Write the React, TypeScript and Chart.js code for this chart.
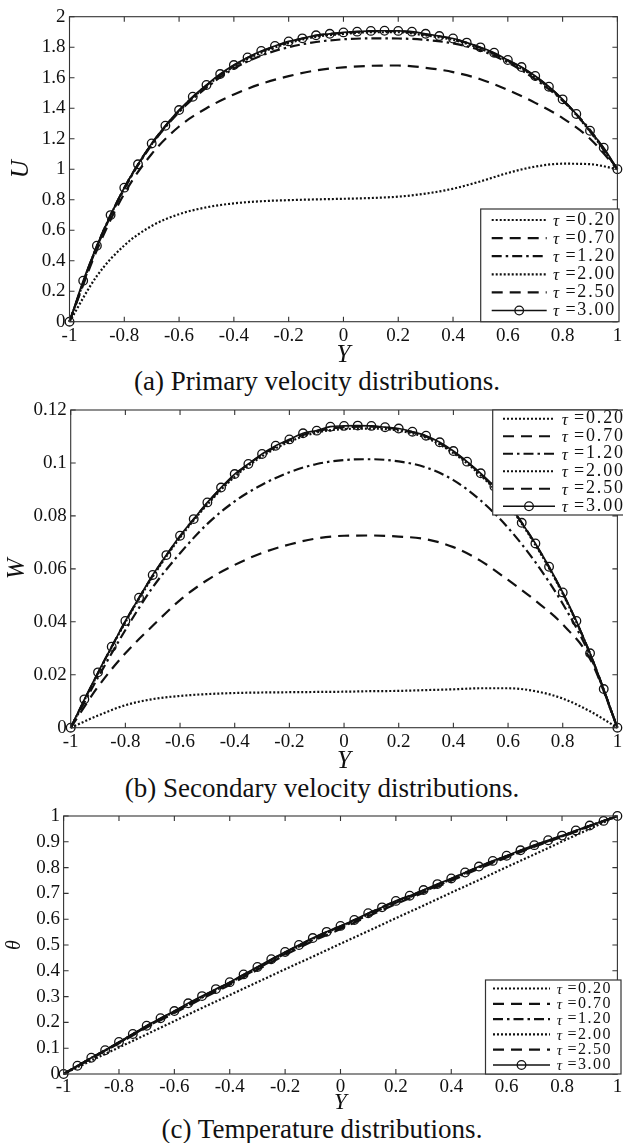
import React, { useEffect, useRef } from 'react';
import { Chart, registerables } from 'chart.js';

Chart.register(...registerables);

// ---------- data ----------
const Y_COARSE = [-1, -0.9, -0.8, -0.7, -0.6, -0.5, -0.4, -0.3, -0.2, -0.1, 0, 0.1, 0.2, 0.3, 0.4, 0.5, 0.6, 0.7, 0.8, 0.9, 1];
const Y_FINE = [-1, -0.95, -0.9, -0.85, -0.8, -0.75, -0.7, -0.65, -0.6, -0.55, -0.5, -0.45, -0.4, -0.35, -0.3, -0.25, -0.2, -0.15, -0.1, -0.05, 0, 0.05, 0.1, 0.15, 0.2, 0.25, 0.3, 0.35, 0.4, 0.45, 0.5, 0.55, 0.6, 0.65, 0.7, 0.75, 0.8, 0.85, 0.9, 0.95, 1];

const TAU_LABELS = ['τ =0.20', 'τ =0.70', 'τ =1.20', 'τ =2.00', 'τ =2.50', 'τ =3.00'];

const X_TICKS = [-1, -0.8, -0.6, -0.4, -0.2, 0, 0.2, 0.4, 0.6, 0.8, 1];
const X_TICK_LABELS = ['-1', '-0.8', '-0.6', '-0.4', '-0.2', '0', '0.2', '0.4', '0.6', '0.8', '1'];

const U_TICKS = [0, 0.2, 0.4, 0.6, 0.8, 1, 1.2, 1.4, 1.6, 1.8, 2];
const U_TICK_LABELS = ['0', '0.2', '0.4', '0.6', '0.8', '1', '1.2', '1.4', '1.6', '1.8', '2'];
const W_TICKS = [0, 0.02, 0.04, 0.06, 0.08, 0.1, 0.12];
const W_TICK_LABELS = ['0', '0.02', '0.04', '0.06', '0.08', '0.1', '0.12'];
const T_TICKS = [0, 0.1, 0.2, 0.3, 0.4, 0.5, 0.6, 0.7, 0.8, 0.9, 1];
const T_TICK_LABELS = ['0', '0.1', '0.2', '0.3', '0.4', '0.5', '0.6', '0.7', '0.8', '0.9', '1'];

// (a) primary velocity U
const U_020 = [0, 0.3, 0.5, 0.628, 0.705, 0.75, 0.776, 0.79, 0.797, 0.802, 0.806, 0.811, 0.82, 0.84, 0.872, 0.92, 0.975, 1.017, 1.036, 1.033, 1.0];
const U_070 = [0, 0.47, 0.84, 1.1, 1.28, 1.4, 1.49, 1.56, 1.61, 1.648, 1.668, 1.678, 1.68, 1.665, 1.637, 1.59, 1.52, 1.435, 1.335, 1.2, 1.0];
const U_120 = [0, 0.49, 0.87, 1.16, 1.375, 1.535, 1.66, 1.745, 1.8, 1.834, 1.852, 1.858, 1.857, 1.848, 1.825, 1.78, 1.7, 1.59, 1.45, 1.258, 1.0];
const U_200 = [0, 0.495, 0.875, 1.163, 1.38, 1.545, 1.672, 1.764, 1.827, 1.868, 1.887, 1.898, 1.898, 1.877, 1.848, 1.79, 1.708, 1.603, 1.452, 1.248, 1.0];
const U_250 = [0, 0.497, 0.877, 1.166, 1.385, 1.549, 1.68, 1.771, 1.834, 1.876, 1.894, 1.905, 1.905, 1.883, 1.855, 1.796, 1.713, 1.608, 1.456, 1.25, 1.0];
const U_300 = [0, 0.269, 0.498, 0.699, 0.879, 1.032, 1.169, 1.285, 1.388, 1.475, 1.552, 1.624, 1.683, 1.733, 1.775, 1.808, 1.838, 1.858, 1.878, 1.888, 1.897, 1.902, 1.907, 1.908, 1.907, 1.902, 1.888, 1.873, 1.857, 1.83, 1.799, 1.764, 1.716, 1.67, 1.611, 1.541, 1.458, 1.362, 1.252, 1.141, 1.0];

// (b) secondary velocity W
const W_020 = [0, 0.0046, 0.0085, 0.0108, 0.012, 0.0127, 0.0131, 0.0133, 0.0134, 0.0135, 0.0136, 0.0138, 0.0139, 0.0142, 0.0145, 0.0149, 0.0149, 0.0138, 0.011, 0.0062, 0];
const W_070 = [0, 0.0155, 0.0281, 0.0385, 0.0482, 0.0558, 0.0615, 0.066, 0.0692, 0.0715, 0.0725, 0.0726, 0.0722, 0.0712, 0.0682, 0.063, 0.0558, 0.048, 0.039, 0.026, 0];
const W_120 = [0, 0.019, 0.0369, 0.053, 0.0659, 0.077, 0.0855, 0.0918, 0.0965, 0.0996, 0.1011, 0.1014, 0.1006, 0.0983, 0.0935, 0.0858, 0.0755, 0.0625, 0.0468, 0.0272, 0];
const W_200 = [0, 0.0205, 0.0398, 0.057, 0.0718, 0.0843, 0.0948, 0.1025, 0.108, 0.1115, 0.1128, 0.113, 0.1122, 0.1095, 0.1037, 0.0953, 0.0842, 0.069, 0.0506, 0.0279, 0];
const W_250 = [0, 0.0207, 0.0401, 0.0574, 0.0722, 0.0848, 0.0954, 0.1031, 0.1086, 0.112, 0.1135, 0.1137, 0.1127, 0.11, 0.1042, 0.0958, 0.0846, 0.0694, 0.0509, 0.028, 0];
const W_300 = [0, 0.0107, 0.0209, 0.0306, 0.0403, 0.0491, 0.0577, 0.0652, 0.0725, 0.0788, 0.0851, 0.0907, 0.0958, 0.0996, 0.1034, 0.1065, 0.1089, 0.1112, 0.1122, 0.1137, 0.114, 0.1141, 0.114, 0.1135, 0.113, 0.1118, 0.1103, 0.1078, 0.1045, 0.1005, 0.0961, 0.0911, 0.0849, 0.0774, 0.0696, 0.0608, 0.0511, 0.0403, 0.0281, 0.0146, 0];

// (c) temperature theta
const T_020 = [0, 0.052, 0.103, 0.154, 0.205, 0.256, 0.306, 0.356, 0.406, 0.455, 0.505, 0.554, 0.604, 0.653, 0.703, 0.752, 0.802, 0.851, 0.901, 0.95, 1];
const T_070 = [0, 0.06, 0.119, 0.18, 0.236, 0.292, 0.346, 0.404, 0.461, 0.515, 0.562, 0.611, 0.659, 0.703, 0.749, 0.796, 0.839, 0.881, 0.919, 0.96, 1];
const T_120 = [0, 0.061, 0.121, 0.183, 0.239, 0.296, 0.35, 0.409, 0.466, 0.52, 0.567, 0.616, 0.664, 0.707, 0.753, 0.8, 0.842, 0.884, 0.921, 0.961, 1];
const T_200 = [0, 0.062, 0.122, 0.185, 0.241, 0.299, 0.353, 0.412, 0.47, 0.524, 0.571, 0.62, 0.668, 0.71, 0.755, 0.802, 0.844, 0.885, 0.922, 0.962, 1];
const T_250 = [0, 0.062, 0.123, 0.186, 0.243, 0.3, 0.355, 0.414, 0.471, 0.526, 0.573, 0.622, 0.67, 0.712, 0.757, 0.803, 0.845, 0.886, 0.923, 0.962, 1];
const T_300 = [0, 0.032, 0.063, 0.092, 0.124, 0.155, 0.187, 0.216, 0.244, 0.274, 0.302, 0.329, 0.356, 0.386, 0.415, 0.445, 0.473, 0.5, 0.527, 0.551, 0.574, 0.597, 0.623, 0.646, 0.671, 0.691, 0.713, 0.736, 0.758, 0.781, 0.804, 0.826, 0.846, 0.867, 0.887, 0.906, 0.924, 0.944, 0.963, 0.981, 1];

// ---------- styling ----------
const SERIF = '"Liberation Serif", "Times New Roman", serif';
const INK = '#111';

const LINE_STYLES = [
  { dash: [2, 2], width: 2.2, marker: false },
  { dash: [11, 7], width: 2.2, marker: false },
  { dash: [10, 4, 2.5, 4], width: 2.2, marker: false },
  { dash: [2, 2], width: 2.2, marker: false },
  { dash: [11, 7], width: 2.2, marker: false },
  { dash: [], width: 1.7, marker: true },
];

const pts = (xs: number[], ys: number[]) => xs.map((x, i) => ({ x, y: ys[i] }));

function makeDatasets(series: number[][]) {
  return series.map((ys, i) => {
    const st = LINE_STYLES[i];
    const xs = ys.length === Y_FINE.length ? Y_FINE : Y_COARSE;
    return {
      label: TAU_LABELS[i],
      data: pts(xs, ys),
      borderColor: INK,
      borderWidth: st.width,
      borderDash: st.dash,
      pointRadius: st.marker ? 4.3 : 0,
      pointHoverRadius: st.marker ? 4.3 : 0,
      pointBorderWidth: 1.3,
      pointBorderColor: INK,
      pointBackgroundColor: 'rgba(0,0,0,0)',
      cubicInterpolationMode: 'monotone',
      fill: false,
      clip: false,
    };
  });
}

const framePlugin = {
  id: 'frameAndLegend',
  afterDatasetsDraw(chart: any, _args: any, opts: any) {
    const { ctx, chartArea: a, scales } = chart;
    ctx.save();
    // frame + inward ticks on all four sides
    ctx.setLineDash([]);
    ctx.strokeStyle = '#333';
    ctx.lineWidth = 1.1;
    ctx.strokeRect(a.left, a.top, a.right - a.left, a.bottom - a.top);
    const L = 5;
    ctx.beginPath();
    scales.x.ticks.forEach((t: any) => {
      const px = scales.x.getPixelForValue(t.value);
      ctx.moveTo(px, a.bottom);
      ctx.lineTo(px, a.bottom - L);
      ctx.moveTo(px, a.top);
      ctx.lineTo(px, a.top + L);
    });
    scales.y.ticks.forEach((t: any) => {
      const py = scales.y.getPixelForValue(t.value);
      ctx.moveTo(a.left, py);
      ctx.lineTo(a.left + L, py);
      ctx.moveTo(a.right, py);
      ctx.lineTo(a.right - L, py);
    });
    ctx.stroke();

    // boxed legend drawn from the datasets' own styles and labels
    const lg = opts;
    if (lg && lg.x0 !== undefined) {
      ctx.fillStyle = '#fff';
      ctx.fillRect(lg.x0, lg.y0, lg.x1 - lg.x0, lg.y1 - lg.y0);
      ctx.strokeStyle = '#333';
      ctx.lineWidth = 1.2;
      ctx.strokeRect(lg.x0, lg.y0, lg.x1 - lg.x0, lg.y1 - lg.y0);
      chart.data.datasets.forEach((ds: any, i: number) => {
        const y = lg.row0 + i * lg.rowStep;
        ctx.strokeStyle = INK;
        ctx.lineWidth = ds.borderWidth;
        ctx.setLineDash(ds.borderDash || []);
        ctx.beginPath();
        ctx.moveTo(lg.s0, y);
        ctx.lineTo(lg.s1, y);
        ctx.stroke();
        ctx.setLineDash([]);
        if (ds.pointRadius > 0) {
          ctx.lineWidth = ds.pointBorderWidth;
          ctx.beginPath();
          ctx.arc((lg.s0 + lg.s1) / 2, y, ds.pointRadius, 0, Math.PI * 2);
          ctx.stroke();
        }
        const label: string = ds.label;
        const head = label.slice(0, 1);
        const rest = label.slice(1);
        ctx.fillStyle = INK;
        ctx.textBaseline = 'middle';
        ctx.textAlign = 'left';
        ctx.font = `italic ${lg.fs - 1}px ${SERIF}`;
        if ('letterSpacing' in ctx) ctx.letterSpacing = '0px';
        ctx.fillText(head, lg.tx, y + 1.5);
        const w = ctx.measureText(head).width;
        ctx.font = `${lg.fs}px ${SERIF}`;
        if ('letterSpacing' in ctx) ctx.letterSpacing = `${lg.ls}px`;
        ctx.fillText(rest, lg.tx + w, y);
        if ('letterSpacing' in ctx) ctx.letterSpacing = '0px';
      });
    }
    ctx.restore();
  },
};

type PanelSpec = {
  top: number;
  height: number;
  plotLeft: number;
  plotRight: number;
  plotTop: number;
  plotBottom: number;
  xTickPad: number;
  xTitleSize: number;
  xTitlePad: number;
  yTickPad: number;
  yTitle: string;
  yTitleSize: number;
  yTitlePad: number;
  tickSize: number;
  yMax: number;
  yTicks: number[];
  yTickLabels: string[];
  series: number[][];
  legend: any;
};

function makeConfig(p: PanelSpec): any {
  return {
    type: 'line',
    data: { datasets: makeDatasets(p.series) },
    plugins: [framePlugin],
    options: {
      responsive: false,
      animation: false,
      events: [],
      layout: { padding: { top: p.plotTop, right: 623 - p.plotRight, bottom: 0, left: 0 } },
      plugins: {
        legend: { display: false },
        tooltip: { enabled: false },
        title: { display: false },
        frameAndLegend: p.legend,
      },
      scales: {
        x: {
          type: 'linear',
          min: -1,
          max: 1,
          grid: { display: false, drawTicks: false },
          border: { display: false },
          ticks: {
            color: INK,
            font: { family: SERIF, size: p.tickSize },
            padding: p.xTickPad,
            maxRotation: 0,
            autoSkip: false,
            callback: (_v: any, i: number) => X_TICK_LABELS[i],
          },
          afterBuildTicks: (s: any) => {
            s.ticks = X_TICKS.map((v) => ({ value: v }));
          },
          afterFit: (s: any) => {
            s.height = p.height - p.plotBottom;
            s.paddingLeft = 0;
            s.paddingRight = 0;
          },
          title: {
            display: true,
            text: 'Y',
            color: INK,
            font: { family: SERIF, size: p.xTitleSize, style: 'italic' },
            padding: { top: 0, bottom: p.xTitlePad },
          },
        },
        y: {
          type: 'linear',
          min: 0,
          max: p.yMax,
          grid: { display: false, drawTicks: false },
          border: { display: false },
          ticks: {
            color: INK,
            font: { family: SERIF, size: p.tickSize },
            padding: p.yTickPad,
            autoSkip: false,
            callback: (_v: any, i: number) => p.yTickLabels[i],
          },
          afterBuildTicks: (s: any) => {
            s.ticks = p.yTicks.map((v) => ({ value: v }));
          },
          afterFit: (s: any) => {
            s.width = p.plotLeft;
            s.paddingTop = 0;
            s.paddingBottom = 0;
          },
          title: {
            display: true,
            text: p.yTitle,
            color: INK,
            font: { family: SERIF, size: p.yTitleSize, style: 'italic' },
            padding: { top: p.yTitlePad, bottom: 0 },
          },
        },
      },
    },
  };
}

const PANEL_A: PanelSpec = {
  top: 0, height: 372,
  plotLeft: 69.5, plotRight: 619, plotTop: 16.7, plotBottom: 321.7,
  xTickPad: 3, xTitleSize: 25, xTitlePad: 2,
  yTickPad: 4, yTitle: 'U', yTitleSize: 25, yTitlePad: 6,
  tickSize: 19, yMax: 2, yTicks: U_TICKS, yTickLabels: U_TICK_LABELS,
  series: [U_020, U_070, U_120, U_200, U_250, U_300],
  legend: { x0: 480.7, y0: 209, x1: 619, y1: 321.7, row0: 220, rowStep: 18.1, s0: 491.7, s1: 546.7, tx: 553, fs: 18, ls: 1.8 },
};

const PANEL_B: PanelSpec = {
  top: 392, height: 390,
  plotLeft: 70.7, plotRight: 621.8, plotTop: 18, plotBottom: 335.7,
  xTickPad: 3, xTitleSize: 25, xTitlePad: 6,
  yTickPad: 4, yTitle: 'W', yTitleSize: 25, yTitlePad: 2,
  tickSize: 19, yMax: 0.12, yTicks: W_TICKS, yTickLabels: W_TICK_LABELS,
  series: [W_020, W_070, W_120, W_200, W_250, W_300],
  legend: { x0: 492.7, y0: 18, x1: 640, y1: 123, row0: 26.75, rowStep: 17.5, s0: 503, s1: 555, tx: 561.7, fs: 18, ls: 1.8 },
};

const PANEL_C: PanelSpec = {
  top: 800, height: 320,
  plotLeft: 63.6, plotRight: 621, plotTop: 16, plotBottom: 274,
  xTickPad: 1.5, xTitleSize: 23, xTitlePad: 3,
  yTickPad: 3.5, yTitle: 'θ', yTitleSize: 20, yTitlePad: 3,
  tickSize: 19, yMax: 1, yTicks: T_TICKS, yTickLabels: T_TICK_LABELS,
  series: [T_020, T_070, T_120, T_200, T_250, T_300],
  legend: { x0: 485.5, y0: 180, x1: 621, y1: 274, row0: 188.5, rowStep: 15.3, s0: 493, s1: 550, tx: 556.7, fs: 16, ls: 1.5 },
};

function Panel({ spec }: { spec: PanelSpec }) {
  const ref = useRef<HTMLCanvasElement | null>(null);
  useEffect(() => {
    if (!ref.current) return;
    const chart = new Chart(ref.current, makeConfig(spec));
    return () => chart.destroy();
  }, [spec]);
  return (
    <canvas
      ref={ref}
      width={623}
      height={spec.height}
      style={{ position: 'absolute', left: 0, top: spec.top, width: 623, height: spec.height }}
    />
  );
}

function Caption({ text, cx, cy }: { text: string; cx: number; cy: number }) {
  return (
    <div
      style={{
        position: 'absolute',
        left: cx - 300,
        top: cy - 16,
        width: 600,
        height: 32,
        lineHeight: '32px',
        textAlign: 'center',
        fontFamily: SERIF,
        fontSize: 27,
        color: INK,
        whiteSpace: 'nowrap',
      }}
    >
      {text}
    </div>
  );
}

export default function App() {
  return (
    <div style={{ position: 'absolute', left: 0, top: 0, width: 623, height: 1143, background: '#fff', overflow: 'hidden' }}>
      <Caption text="(a) Primary velocity distributions." cx={317} cy={381} />
      <Caption text="(b) Secondary velocity distributions." cx={322} cy={788} />
      <Caption text="(c) Temperature distributions." cx={322} cy={1129} />
      <Panel spec={PANEL_A} />
      <Panel spec={PANEL_B} />
      <Panel spec={PANEL_C} />
    </div>
  );
}
